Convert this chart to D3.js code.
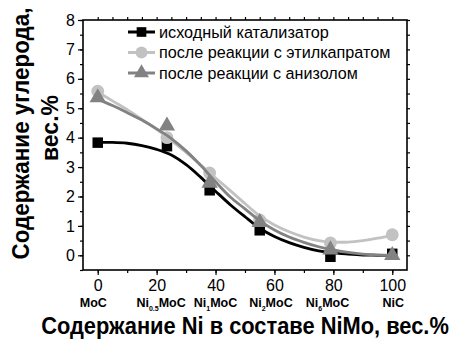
<!DOCTYPE html>
<html>
<head>
<meta charset="utf-8">
<script src="https://cdn.jsdelivr.net/npm/d3@7"></script>
<style>
  body { margin: 0; background: #fff; }
  svg { display: block; font-family: "Liberation Sans", Arial, sans-serif; }
</style>
</head>
<body>
<svg id="chart" width="455" height="340"></svg>
<script>
// Measured samples: Ni content (wt.%) and carbon content (wt.%)
const niContent = [0, 23.5, 38, 55, 79, 100];
const initialCatalyst = [3.83, 3.71, 2.21, 0.85, -0.05, 0.05];
const afterEthylCaprate = [5.58, 4.0, 2.8, 1.2, 0.42, 0.7];
const afterAnisole = [5.36, 4.4, 2.46, 1.12, 0.19, 0.0];

// Fitted trend curves, sampled along the Ni axis
const fitX = [0, 5, 10, 15, 20, 25, 30, 35, 40, 45, 50, 55, 60, 65, 70, 75, 80, 85, 90, 95, 100];
const fitInitial = [3.84, 3.84, 3.81, 3.73, 3.6, 3.41, 3.08, 2.65, 2.18, 1.72, 1.31, 0.92, 0.64, 0.43, 0.27, 0.15, 0.08, 0.04, 0.01, 0.0, -0.01];
const fitEthylCaprate = [5.55, 5.25, 4.95, 4.62, 4.28, 3.9, 3.5, 3.07, 2.63, 2.2, 1.76, 1.34, 1.03, 0.8, 0.62, 0.5, 0.45, 0.45, 0.5, 0.58, 0.68];
const fitAnisole = [5.31, 5.09, 4.85, 4.6, 4.3, 3.97, 3.55, 3.05, 2.5, 1.98, 1.58, 1.18, 0.86, 0.62, 0.44, 0.29, 0.18, 0.1, 0.04, 0.01, 0.0];

const seriesNames = ["исходный катализатор", "после реакции с этилкапратом", "после реакции с анизолом"];

const xTicks = [0, 20, 40, 60, 80, 100];
const yTicks = [0, 1, 2, 3, 4, 5, 6, 7, 8];

// Phase names under the Ni axis: [main, subscript, tail]
const compoundLabels = [["MoC", "", ""], ["Ni", "0.5", "MoC"], ["Ni", "1", "MoC"], ["Ni", "2", "MoC"], ["Ni", "6", "MoC"], ["NiC", "", ""]];
const compoundX = [-1.5, 21.5, 40, 58.8, 78, 100.3];

const xTitle = "Содержание Ni в составе NiMo, вес.%";
const yTitle = ["Содержание углерода,", "вес.%"];

const svg = d3.select("#chart");
const plot = { left: 83, right: 407, top: 20, bottom: 270 };

const x = d3.scaleLinear().domain([-5, 105]).range([plot.left, plot.right]);
const y = d3.scaleLinear().domain([-0.5, 8]).range([plot.bottom, plot.top]);

// Axes: major + minor ticks, all outward
const axisG = svg.append("g");
function addAxis(axis, transform) {
  const g = axisG.append("g").attr("transform", transform).call(axis);
  g.select(".domain").remove();
  g.selectAll("line").attr("stroke", "#000").attr("stroke-width", 1.2);
  g.selectAll("text").attr("fill", "#000").attr("font-size", 16).attr("font-family", "Liberation Sans, Arial, sans-serif");
  return g;
}
addAxis(d3.axisBottom(x).tickValues(d3.range(0, 101, 10)).tickSize(3).tickFormat(""), `translate(0,${plot.bottom})`);
addAxis(d3.axisBottom(x).tickValues(xTicks).tickSize(5).tickPadding(5), `translate(0,${plot.bottom})`);
addAxis(d3.axisLeft(y).tickValues(d3.range(-0.5, 8.01, 0.5)).tickSize(3).tickFormat(""), `translate(${plot.left},0)`);
addAxis(d3.axisLeft(y).tickValues(yTicks).tickSize(5).tickPadding(3).tickFormat(d3.format("d")), `translate(${plot.left},0)`);
addAxis(d3.axisTop(x).tickValues(d3.range(0, 101, 5)).tickSize(3).tickFormat(""), `translate(0,${plot.top})`);
addAxis(d3.axisRight(y).tickValues(d3.range(0, 8.01, 0.5)).tickSize(3).tickFormat(""), `translate(${plot.right},0)`);

// frame
svg.append("rect")
  .attr("x", plot.left).attr("y", plot.top)
  .attr("width", plot.right - plot.left).attr("height", plot.bottom - plot.top)
  .attr("fill", "none").attr("stroke", "#000").attr("stroke-width", 1.6);

const series = [
  { name: seriesNames[0], values: initialCatalyst, fit: fitInitial, color: "#000000", shape: d3.symbolSquare, size: 110 },
  { name: seriesNames[1], values: afterEthylCaprate, fit: fitEthylCaprate, color: "#c2c2c2", shape: d3.symbolCircle, size: 130 },
  { name: seriesNames[2], values: afterAnisole, fit: fitAnisole, color: "#828282", shape: d3.symbolTriangle, size: 115 }
];

const line = d3.line().x(d => x(d[0])).y(d => y(d[1])).curve(d3.curveCatmullRom.alpha(0.5));

const dataG = svg.append("g");
series.forEach(s => {
  const g = dataG.append("g");
  g.append("path")
    .datum(fitX.map((v, i) => [v, s.fit[i]]))
    .attr("d", line)
    .attr("fill", "none").attr("stroke", s.color).attr("stroke-width", 2.8);
  g.selectAll("path.pt")
    .data(niContent.map((v, i) => [v, s.values[i]]))
    .join("path").attr("class", "pt")
    .attr("transform", d => `translate(${x(d[0])},${y(d[1])})`)
    .attr("d", d3.symbol().type(s.shape).size(s.size))
    .attr("fill", s.color);
});

// Fit a text element to a given width by scaling it along its baseline
function fitWidth(textSel, width) {
  const natural = textSel.node().getComputedTextLength();
  const k = width / natural;
  const ax = +textSel.attr("x") || 0;
  textSel.attr("transform", `translate(${ax},0) scale(${k},1) translate(${-ax},0)`);
}

// legend
const legendY = [32, 52.5, 73];
const legendWidths = [170, 231.5, 199];
const legend = svg.append("g");
series.forEach((s, i) => {
  const g = legend.append("g").attr("transform", `translate(0,${legendY[i]})`);
  g.append("line").attr("x1", 128).attr("x2", 155).attr("stroke", s.color).attr("stroke-width", 3);
  g.append("path").attr("transform", "translate(141.5,0)")
    .attr("d", d3.symbol().type(s.shape).size(s.size * 0.85)).attr("fill", s.color);
  const t = g.append("text").attr("x", 159).attr("y", 5.5).attr("font-size", 17).text(s.name);
  fitWidth(t, legendWidths[i]);
});

// phase labels under the ticks
const comp = svg.append("g").attr("font-weight", "bold");
compoundLabels.forEach((parts, i) => {
  const t = comp.append("text").attr("x", x(compoundX[i])).attr("y", 307)
    .attr("text-anchor", "middle").attr("font-size", 12.5);
  t.append("tspan").text(parts[0]);
  if (parts[1]) {
    t.append("tspan").attr("font-size", 7).attr("dy", 3.5).text(parts[1]);
    t.append("tspan").attr("dy", -3.5).text(parts[2]);
  }
});

// axis titles
const xt = svg.append("text")
  .attr("x", 245).attr("y", 334.5)
  .attr("text-anchor", "middle").attr("font-weight", "bold").attr("font-size", 24)
  .text(xTitle);
fitWidth(xt, 408);

const yg1 = svg.append("g").attr("transform", "translate(28.5,133.5) rotate(-90)");
const yt1 = yg1.append("text").attr("x", 0).attr("y", 0)
  .attr("text-anchor", "middle").attr("font-weight", "bold").attr("font-size", 24)
  .text(yTitle[0]);
fitWidth(yt1, 252);

const yg2 = svg.append("g").attr("transform", "translate(58,128) rotate(-90)");
const yt2 = yg2.append("text").attr("x", 0).attr("y", 0)
  .attr("text-anchor", "middle").attr("font-weight", "bold").attr("font-size", 24)
  .text(yTitle[1]);
fitWidth(yt2, 66);
</script>
</body>
</html>
